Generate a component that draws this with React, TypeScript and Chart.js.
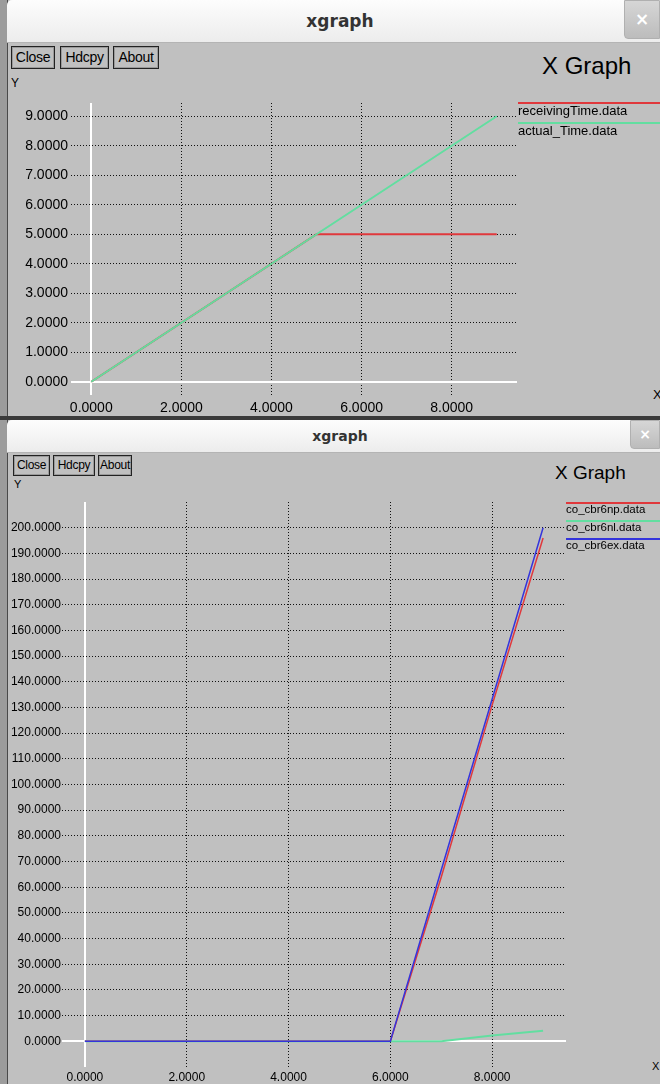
import React, { useEffect, useRef } from "react";
import { Chart, registerables } from "chart.js";

Chart.register(...registerables);

// ---------- data: top window ----------
const topX = [0, 1, 2, 3, 4, 5, 6, 7, 8, 9];
const receivingTime = [0, 1, 2, 3, 4, 5, 5, 5, 5, 5];
const actualTime = [0, 1, 2, 3, 4, 5, 6, 7, 8, 9];
const topXTicks = [0, 2, 4, 6, 8];
const topYTicks = [0, 1, 2, 3, 4, 5, 6, 7, 8, 9];

// ---------- data: bottom window ----------
const botX = [0, 1, 2, 3, 4, 5, 6, 7, 8, 9];
const cbr6np = [0, 0, 0, 0, 0, 0, 0, 64, 131, 196];
const cbr6nl = [0, 0, 0, 0, 0, 0, 0, 0, 2.3, 4.1];
const cbr6ex = [0, 0, 0, 0, 0, 0, 0, 66.7, 133.3, 200];
const botXTicks = [0, 2, 4, 6, 8];
const botYTicks = [0, 10, 20, 30, 40, 50, 60, 70, 80, 90, 100, 110, 120, 130, 140, 150, 160, 170, 180, 190, 200];

const RED = "#e0383c";
const GREEN = "#62dea0";
const BLUE = "#3434dc";
const FONT = "'Liberation Sans', Arial, sans-serif";

const legendPlugin = {
  id: "xLegend",
  afterDraw(chart: any, _args: any, opts: any) {
    const ctx = chart.ctx;
    chart.data.datasets.forEach((ds: any, i: number) => {
      const ly = opts.y + i * opts.gap;
      ctx.save();
      ctx.strokeStyle = ds.borderColor;
      ctx.lineWidth = 2;
      ctx.beginPath();
      ctx.moveTo(opts.x, ly);
      ctx.lineTo(opts.lineEnd, ly);
      ctx.stroke();
      ctx.fillStyle = "#000";
      ctx.font = opts.font;
      ctx.textBaseline = "middle";
      ctx.textAlign = "left";
      ctx.fillText(ds.label, opts.x, ly + opts.textDy);
      ctx.restore();
    });
  },
};

type Series = { label: string; values: number[]; color: string; width: number; order: number };

type Cfg = {
  left: number;
  top: number;
  width: number;
  height: number;
  xs: number[];
  series: Series[];
  xMin: number;
  xMax: number;
  yMin: number;
  yMax: number;
  xTicks: number[];
  yTicks: number[];
  padTop: number;
  padRight: number;
  yAxisW: number;
  xAxisH: number;
  tickFont: number;
  yPad: number;
  xPad: number;
  legend: any;
};

function gridOpts() {
  return {
    color: (c: any) => (c.tick && c.tick.value === 0 ? "#ffffff" : "#111111"),
    lineWidth: (c: any) => (c.tick && c.tick.value === 0 ? 2 : 1),
    drawTicks: false,
  };
}
function borderOpts() {
  return {
    display: false,
    dash: (c: any) => (c.tick && c.tick.value === 0 ? [] : [1, 2]),
  };
}

function XChart({ cfg }: { cfg: Cfg }) {
  const ref = useRef<HTMLCanvasElement>(null);
  useEffect(() => {
    const chart = new Chart(ref.current as HTMLCanvasElement, {
      type: "scatter",
      data: {
        datasets: cfg.series.map((s) => ({
          label: s.label,
          data: cfg.xs.map((x, i) => ({ x, y: s.values[i] })),
          borderColor: s.color,
          backgroundColor: s.color,
          borderWidth: s.width,
          showLine: true,
          pointRadius: 0,
          tension: 0,
          order: s.order,
        })),
      },
      options: {
        responsive: false,
        animation: false,
        devicePixelRatio: 1,
        events: [],
        layout: { padding: { left: 0, top: cfg.padTop, right: cfg.padRight, bottom: 0 } },
        plugins: {
          legend: { display: false },
          tooltip: { enabled: false },
          xLegend: cfg.legend,
        } as any,
        scales: {
          x: {
            type: "linear",
            min: cfg.xMin,
            max: cfg.xMax,
            afterBuildTicks: (s: any) => {
              s.ticks = cfg.xTicks.map((v) => ({ value: v }));
            },
            afterFit: (s: any) => {
              s.height = cfg.xAxisH;
              s.paddingLeft = 0;
              s.paddingRight = 0;
            },
            grid: gridOpts() as any,
            border: borderOpts() as any,
            ticks: {
              autoSkip: false,
              maxRotation: 0,
              padding: cfg.xPad,
              color: "#000",
              font: { family: FONT, size: cfg.tickFont },
              callback: (v: any) => Number(v).toFixed(4),
            },
          },
          y: {
            type: "linear",
            min: cfg.yMin,
            max: cfg.yMax,
            afterBuildTicks: (s: any) => {
              s.ticks = cfg.yTicks.map((v) => ({ value: v }));
            },
            afterFit: (s: any) => {
              s.width = cfg.yAxisW;
              s.paddingTop = 0;
              s.paddingBottom = 0;
            },
            grid: gridOpts() as any,
            border: borderOpts() as any,
            ticks: {
              autoSkip: false,
              padding: cfg.yPad,
              color: "#000",
              font: { family: FONT, size: cfg.tickFont },
              callback: (v: any) => Number(v).toFixed(4),
            },
          },
        },
      },
      plugins: [legendPlugin as any],
    });
    return () => chart.destroy();
  }, []);
  return (
    <canvas
      ref={ref}
      width={cfg.width}
      height={cfg.height}
      style={{ position: "absolute", left: cfg.left, top: cfg.top, width: cfg.width, height: cfg.height }}
    />
  );
}

const topCfg: Cfg = {
  left: 0,
  top: 90,
  width: 660,
  height: 324,
  xs: topX,
  series: [
    { label: "receivingTime.data", values: receivingTime, color: RED, width: 2, order: 1 },
    { label: "actual_Time.data", values: actualTime, color: GREEN, width: 2, order: 0 },
  ],
  xMin: -0.45,
  xMax: 9.45,
  yMin: -0.45,
  yMax: 9.45,
  xTicks: topXTicks,
  yTicks: topYTicks,
  padTop: 13,
  padRight: 660 - 517,
  yAxisW: 71,
  xAxisH: 324 - 305,
  tickFont: 14,
  yPad: 3,
  xPad: 5,
  legend: { x: 518, lineEnd: 660, y: 13, gap: 20, textDy: 8, font: `13px ${FONT}` },
};

const botCfg: Cfg = {
  left: 0,
  top: 490,
  width: 660,
  height: 594,
  xs: botX,
  series: [
    { label: "co_cbr6np.data", values: cbr6np, color: RED, width: 1.5, order: 1 },
    { label: "co_cbr6nl.data", values: cbr6nl, color: GREEN, width: 2, order: 2 },
    { label: "co_cbr6ex.data", values: cbr6ex, color: BLUE, width: 1.5, order: 0 },
  ],
  xMin: -0.45,
  xMax: 9.45,
  yMin: -10,
  yMax: 210,
  xTicks: botXTicks,
  yTicks: botYTicks,
  padTop: 12,
  padRight: 660 - 566,
  yAxisW: 62,
  xAxisH: 594 - 577,
  tickFont: 12,
  yPad: 1,
  xPad: 3,
  legend: { x: 566, lineEnd: 660, y: 13, gap: 18, textDy: 7, font: `11.5px ${FONT}` },
};

function Btn({ left, top, w, h, text, size }: { left: number; top: number; w: number; h: number; text: string; size: number }) {
  return (
    <div
      style={{
        position: "absolute",
        left,
        top,
        width: w,
        height: h,
        boxSizing: "border-box",
        border: "1px solid #222",
        boxShadow: "inset 0 0 0 1px #9a9a9a",
        fontSize: size,
        lineHeight: `${h - 2}px`,
        textAlign: "center",
        color: "#000",
        letterSpacing: -0.3,
      }}
    >
      {text}
    </div>
  );
}

function TitleBar({ top, h, size, closeL, closeW, closeH }: { top: number; h: number; size: number; closeL: number; closeW: number; closeH: number }) {
  return (
    <>
      <div
        style={{
          position: "absolute",
          left: 7,
          top,
          width: 653,
          height: h,
          background: "linear-gradient(#fdfdfd, #ececec)",
          borderBottom: "1px solid #b4b4b4",
          borderTopLeftRadius: 5,
        }}
      />
      <div
        style={{
          position: "absolute",
          left: 0,
          top,
          width: 680,
          height: h,
          lineHeight: `${h}px`,
          textAlign: "center",
          fontFamily: "'DejaVu Sans', sans-serif",
          fontWeight: "bold",
          fontSize: size,
          color: "#333",
        }}
      >
        xgraph
      </div>
      <div
        style={{
          position: "absolute",
          left: closeL,
          top,
          width: closeW,
          height: closeH,
          background: "linear-gradient(#d6d6d6, #bcbcbc)",
          borderBottomLeftRadius: 4,
          border: "1px solid #b0b0b0",
          boxSizing: "border-box",
          color: "#fff",
          fontFamily: "'DejaVu Sans', sans-serif",
          fontWeight: "bold",
          fontSize: size,
          lineHeight: `${closeH - 2}px`,
          textAlign: "center",
        }}
      >
        ×
      </div>
    </>
  );
}

export default function App() {
  return (
    <div
      style={{
        position: "fixed",
        left: 0,
        top: 0,
        width: 660,
        height: 1084,
        overflow: "hidden",
        background: "#c0c0c0",
        fontFamily: FONT,
      }}
    >
      {/* left strip (window behind) */}
      <div style={{ position: "absolute", left: 0, top: 0, width: 7, height: 1084, background: "#9c9c9c", borderRight: "1px solid #4a4a4a" }} />

      {/* top window */}
      <TitleBar top={0} h={42} size={17} closeL={624} closeW={36} closeH={39} />
      <Btn left={11} top={46} w={44} h={23} text="Close" size={14} />
      <Btn left={60} top={46} w={49} h={23} text="Hdcpy" size={14} />
      <Btn left={113} top={46} w={46} h={23} text="About" size={14} />
      <div style={{ position: "absolute", left: 542, top: 52, fontSize: 24, lineHeight: "28px", color: "#000" }}>X Graph</div>
      <div style={{ position: "absolute", left: 11, top: 76, fontSize: 12, lineHeight: "14px" }}>Y</div>
      <div style={{ position: "absolute", left: 653, top: 388, fontSize: 13, lineHeight: "14px" }}>X</div>
      <XChart cfg={topCfg} />

      {/* separator between windows */}
      <div style={{ position: "absolute", left: 0, top: 416, width: 660, height: 4, background: "#3a3a3a" }} />

      {/* bottom window */}
      <TitleBar top={420} h={32} size={14} closeL={630} closeW={30} closeH={29} />
      <Btn left={13} top={455} w={37} h={21} text="Close" size={12} />
      <Btn left={53} top={455} w={42} h={21} text="Hdcpy" size={12} />
      <Btn left={98} top={455} w={34} h={21} text="About" size={12} />
      <div style={{ position: "absolute", left: 555, top: 461, fontSize: 19, lineHeight: "23px", color: "#000" }}>X Graph</div>
      <div style={{ position: "absolute", left: 14, top: 478, fontSize: 11, lineHeight: "13px" }}>Y</div>
      <div style={{ position: "absolute", left: 652, top: 1060, fontSize: 11, lineHeight: "13px" }}>X</div>
      <XChart cfg={botCfg} />
    </div>
  );
}
